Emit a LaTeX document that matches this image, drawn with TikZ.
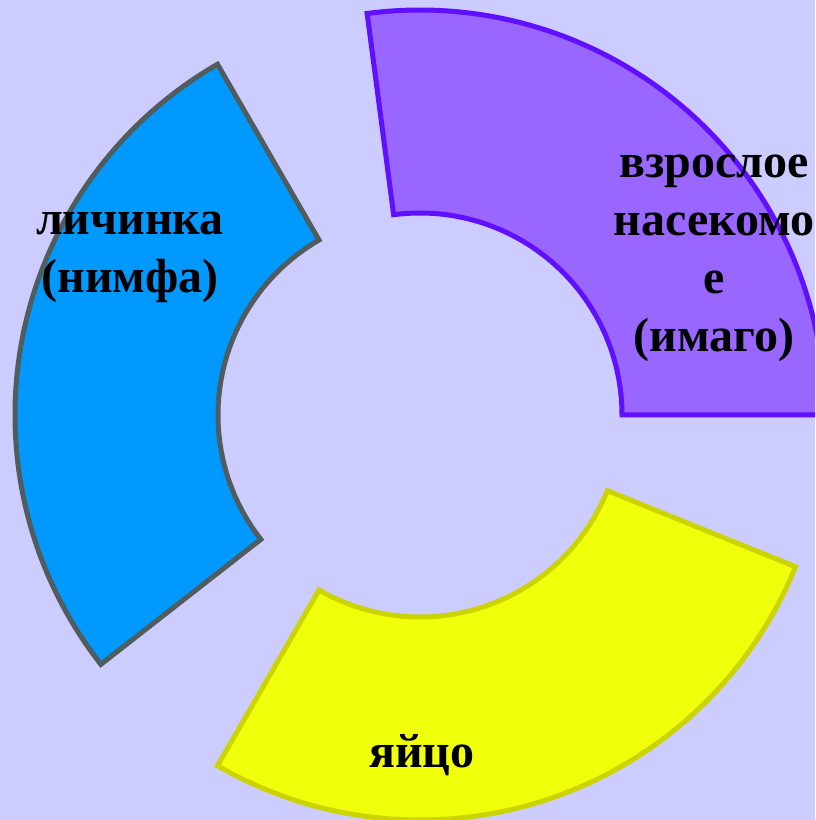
\documentclass[tikz,border=0pt]{standalone}
\usepackage{fontspec}
\setmainfont{Liberation Serif}
\definecolor{bgc}{HTML}{CCCCFF}
\definecolor{purfill}{HTML}{9966FF}
\definecolor{purline}{HTML}{6010FF}
\definecolor{bluefill}{HTML}{0099FF}
\definecolor{blueline}{HTML}{505C5E}
\definecolor{yelfill}{HTML}{F0FF0A}
\definecolor{yelline}{HTML}{CCD400}
\tikzset{
  sector/.style={line width=5pt, line join=miter},
  lbl/.style={font=\bfseries\fontsize{48}{58}\selectfont, align=center, text=black, inner sep=0pt, anchor=base}
}
\newcommand{\annsector}[5]{% fill, line, start, end
  \filldraw[sector, fill=#1, draw=#2] ([shift={(#3:202)}]O) -- ([shift={(#3:405)}]O)
    arc[start angle=#3, end angle=#4, radius=405] -- ([shift={(#4:202)}]O)
    arc[start angle=#4, end angle=#3, radius=202] -- cycle;}
\begin{document}
\begin{tikzpicture}[x=1pt,y=1pt]
\fill[bgc] (0,0) rectangle (815,820);
\useasboundingbox (0,0) rectangle (815,820);
\clip (0,0) rectangle (815,820);
\coordinate (O) at (420,405);
\annsector{purfill}{purline}{0}{97.5}{}
\annsector{bluefill}{blueline}{120}{218}{}
\annsector{yelfill}{yelline}{240}{338}{}
\node[lbl] (adult) at (714,468) {взрослое\\насекомо\\е\\(имаго)};
\node[lbl] (larva) at (130,527) {личинка\\(нимфа)};
\node[lbl] (egg) at (422,52) {яйцо};
\end{tikzpicture}
\end{document}
